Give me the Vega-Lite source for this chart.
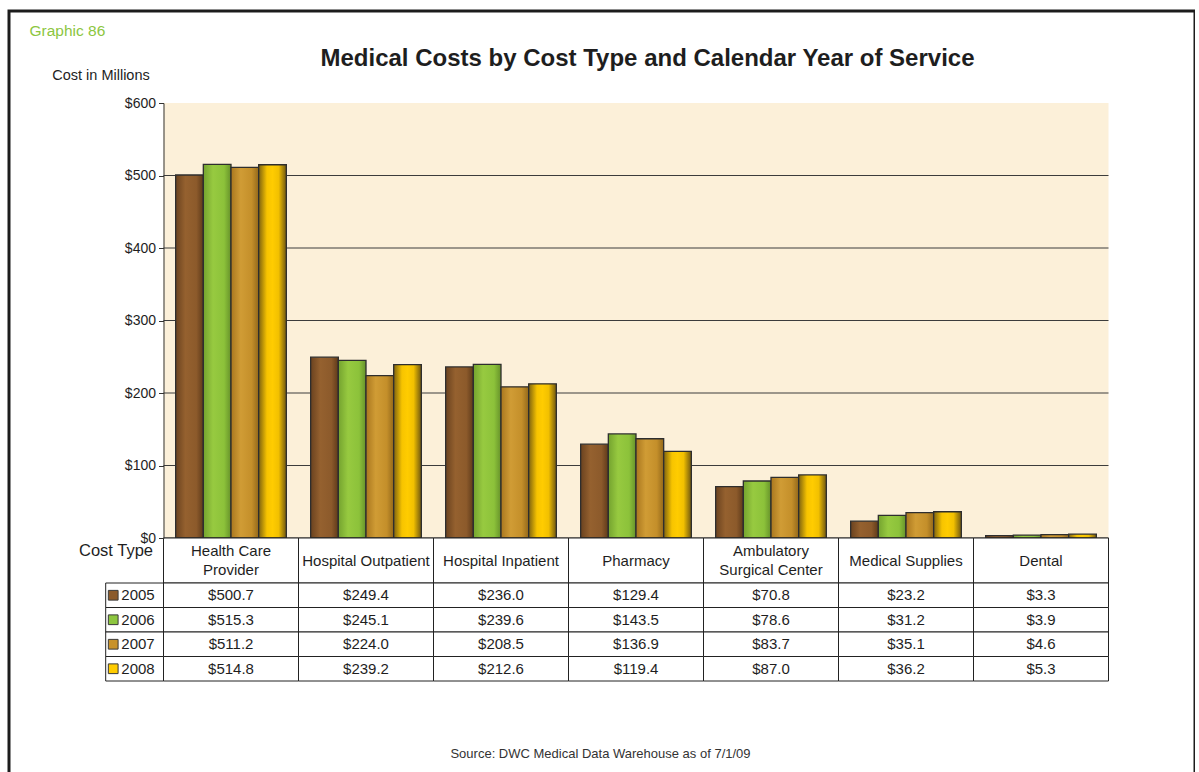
{
  "$schema": "https://vega.github.io/schema/vega-lite/v6.json",
  "width": 1186,
  "height": 780,
  "autosize": "none",
  "padding": {"left": 9, "top": 11, "right": 0, "bottom": 0},
  "background": "white",
  "config": {
    "font": "Liberation Sans",
    "view": {"stroke": "#1c1c1c", "strokeWidth": 3, "fill": "white"},
    "axis": {"labelFont": "Liberation Sans", "titleFont": "Liberation Sans"}
  },
  "datasets": {
    "costs": [
      {"type": "Health Care\nProvider", "year": "2005", "value": 500.7},
      {"type": "Health Care\nProvider", "year": "2006", "value": 515.3},
      {"type": "Health Care\nProvider", "year": "2007", "value": 511.2},
      {"type": "Health Care\nProvider", "year": "2008", "value": 514.8},
      {"type": "Hospital Outpatient", "year": "2005", "value": 249.4},
      {"type": "Hospital Outpatient", "year": "2006", "value": 245.1},
      {"type": "Hospital Outpatient", "year": "2007", "value": 224.0},
      {"type": "Hospital Outpatient", "year": "2008", "value": 239.2},
      {"type": "Hospital Inpatient", "year": "2005", "value": 236.0},
      {"type": "Hospital Inpatient", "year": "2006", "value": 239.6},
      {"type": "Hospital Inpatient", "year": "2007", "value": 208.5},
      {"type": "Hospital Inpatient", "year": "2008", "value": 212.6},
      {"type": "Pharmacy", "year": "2005", "value": 129.4},
      {"type": "Pharmacy", "year": "2006", "value": 143.5},
      {"type": "Pharmacy", "year": "2007", "value": 136.9},
      {"type": "Pharmacy", "year": "2008", "value": 119.4},
      {"type": "Ambulatory\nSurgical Center", "year": "2005", "value": 70.8},
      {"type": "Ambulatory\nSurgical Center", "year": "2006", "value": 78.6},
      {"type": "Ambulatory\nSurgical Center", "year": "2007", "value": 83.7},
      {"type": "Ambulatory\nSurgical Center", "year": "2008", "value": 87.0},
      {"type": "Medical Supplies", "year": "2005", "value": 23.2},
      {"type": "Medical Supplies", "year": "2006", "value": 31.2},
      {"type": "Medical Supplies", "year": "2007", "value": 35.1},
      {"type": "Medical Supplies", "year": "2008", "value": 36.2},
      {"type": "Dental", "year": "2005", "value": 3.3},
      {"type": "Dental", "year": "2006", "value": 3.9},
      {"type": "Dental", "year": "2007", "value": 4.6},
      {"type": "Dental", "year": "2008", "value": 5.3}
    ]
  },
  "layer": [
    {
      "layer": [
        {
          "data": {"values": [{"panel": "plot"}]},
          "mark": {"type": "rect", "fill": "#fcf0d9"},
          "encoding": {
            "x": {
              "datum": 0, "type": "quantitative",
              "scale": {"domain": [0, 1], "range": [154.5, 1099.5], "nice": false, "zero": false},
              "axis": {"orient": "top", "offset": 0, "labels": false, "ticks": false, "domain": false, "grid": false,
                "title": "Graphic 86", "titleX": 20, "titleY": 19, "titleAlign": "left", "titleBaseline": "middle",
                "titleColor": "#8cc63f", "titleFontSize": 15.5, "titleFontWeight": "normal"}
            },
            "x2": {"datum": 1},
            "y": {
              "datum": 0, "type": "quantitative",
              "scale": {"domain": [0, 600], "range": [527, 92], "nice": false},
              "axis": {"orient": "left", "offset": -154.5, "values": [0, 100, 200, 300, 400, 500, 600], "format": "$d",
                "labelFontSize": 14, "labelColor": "#1e1e1e", "labelPadding": 3, "tickSize": 5, "tickColor": "#333333",
                "domainColor": "#333333", "grid": false, "zindex": 1,
                "title": "Cost in Millions", "titleAngle": 0, "titleX": -63, "titleY": 64, "titleAlign": "center",
                "titleBaseline": "middle", "titleFontSize": 14.5, "titleFontWeight": "normal", "titleColor": "#1e1e1e"}
            },
            "y2": {"datum": 600}
          }
        },
        {
          "data": {"values": [{"tick": 0}, {"tick": 100}, {"tick": 200}, {"tick": 300}, {"tick": 400}, {"tick": 500}]},
          "mark": {"type": "rule", "color": "#3c3c3c", "strokeWidth": 1},
          "encoding": {
            "x": {"datum": 0, "type": "quantitative"},
            "x2": {"datum": 1},
            "y": {"field": "tick", "type": "quantitative"}
          }
        }
      ]
    },
    {
      "data": {"name": "costs"},
      "mark": {"type": "bar", "stroke": "#2e2e2e", "strokeWidth": 1.3},
      "encoding": {
        "x": {
          "field": "type", "type": "nominal", "sort": null,
          "scale": {"range": [154.5, 1099.5], "paddingInner": 0.18, "paddingOuter": 0.09},
          "axis": {"orient": "top", "offset": 0, "labels": false, "ticks": false, "domain": false, "grid": false,
            "title": "Medical Costs by Cost Type and Calendar Year of Service", "titleX": 638, "titleY": 47,
            "titleAlign": "center", "titleBaseline": "middle", "titleFontSize": 24, "titleFontWeight": "bold",
            "titleColor": "#1e1e1e"}
        },
        "xOffset": {"field": "year", "type": "nominal", "scale": {"paddingInner": 0, "paddingOuter": 0}},
        "y": {"field": "value", "type": "quantitative", "scale": {"domain": [0, 600], "range": [527, 92], "nice": false}, "axis": null},
        "fill": {
          "condition": [
            {"test": "datum.year === '2005'", "value": {"gradient": "linear", "x1": 0, "x2": 1, "y1": 0, "y2": 0,
              "stops": [{"offset": 0, "color": "#6a421f"}, {"offset": 0.35, "color": "#95612f"}, {"offset": 0.75, "color": "#8c5a2b"}, {"offset": 1, "color": "#5e3a1a"}]}},
            {"test": "datum.year === '2006'", "value": {"gradient": "linear", "x1": 0, "x2": 1, "y1": 0, "y2": 0,
              "stops": [{"offset": 0, "color": "#74a32f"}, {"offset": 0.35, "color": "#97ca40"}, {"offset": 0.75, "color": "#8cc23a"}, {"offset": 1, "color": "#66922a"}]}},
            {"test": "datum.year === '2007'", "value": {"gradient": "linear", "x1": 0, "x2": 1, "y1": 0, "y2": 0,
              "stops": [{"offset": 0, "color": "#a9771f"}, {"offset": 0.35, "color": "#d09c35"}, {"offset": 0.75, "color": "#c48f2a"}, {"offset": 1, "color": "#93681a"}]}}
          ],
          "value": {"gradient": "linear", "x1": 0, "x2": 1, "y1": 0, "y2": 0,
            "stops": [{"offset": 0, "color": "#7d6210"}, {"offset": 0.3, "color": "#f7c400"}, {"offset": 0.5, "color": "#ffcc00"}, {"offset": 0.72, "color": "#f2c000"}, {"offset": 1, "color": "#6e5610"}]}
        }
      }
    },
    {
      "data": {"name": "costs"},
      "transform": [{"filter": "datum.year === '2005'"}],
      "encoding": {
        "x": {"field": "type", "type": "nominal", "sort": null,
          "scale": {"range": [154.5, 1099.5], "paddingInner": 0, "paddingOuter": 0}, "axis": null},
        "y": {"datum": "Cost Type", "type": "nominal",
          "scale": {"range": [527, 572], "paddingInner": 0, "paddingOuter": 0},
          "axis": {"orient": "left", "offset": -154.5, "labels": false, "ticks": false, "domain": false, "grid": false,
            "title": "Cost Type", "titleAngle": 0, "titleX": -11, "titleY": 539, "titleAlign": "right",
            "titleBaseline": "middle", "titleFontSize": 16.5, "titleFontWeight": "normal", "titleColor": "#1e1e1e"}}
      },
      "layer": [
        {"mark": {"type": "rect", "fill": "white", "stroke": "#222222", "strokeWidth": 1}},
        {"transform": [{"filter": "indexof(datum.type, '\\n') < 0"}],
          "mark": {"type": "text", "fontSize": 15, "color": "#1e1e1e", "baseline": "middle"},
          "encoding": {"text": {"field": "type"}}},
        {"transform": [{"filter": "indexof(datum.type, '\\n') >= 0"}],
          "mark": {"type": "text", "fontSize": 15, "lineBreak": "\n", "lineHeight": 19, "dy": -9.5, "color": "#1e1e1e", "baseline": "middle"},
          "encoding": {"text": {"field": "type"}}}
      ]
    },
    {
      "data": {"name": "costs"},
      "encoding": {
        "x": {"field": "type", "type": "nominal", "sort": null,
          "scale": {"range": [154.5, 1099.5], "paddingInner": 0, "paddingOuter": 0},
          "axis": {"orient": "bottom", "offset": 0, "labels": false, "ticks": false, "domain": false, "grid": false,
            "title": "Source: DWC Medical Data Warehouse as of 7/1/09", "titleX": 591, "titleY": -38,
            "titleAlign": "center", "titleBaseline": "middle", "titleFontSize": 13, "titleFontWeight": "normal",
            "titleColor": "#333333"}},
        "y": {"field": "year", "type": "nominal",
          "scale": {"range": [572, 670], "paddingInner": 0, "paddingOuter": 0}, "axis": null}
      },
      "layer": [
        {"mark": {"type": "rect", "fill": "white", "stroke": "#222222", "strokeWidth": 1}},
        {"mark": {"type": "text", "fontSize": 15, "color": "#1e1e1e", "baseline": "middle"},
          "encoding": {"text": {"field": "value", "type": "quantitative", "format": "$.1f"}}}
      ]
    },
    {
      "data": {"name": "costs"},
      "transform": [{"filter": "datum.type === 'Dental'"}],
      "encoding": {
        "x": {"datum": "key", "type": "nominal",
          "scale": {"range": [96.7, 154.5], "paddingInner": 0, "paddingOuter": 0}, "axis": null},
        "y": {"field": "year", "type": "nominal",
          "scale": {"range": [572, 670], "paddingInner": 0, "paddingOuter": 0}, "axis": null}
      },
      "layer": [
        {"mark": {"type": "rect", "fill": "white", "stroke": "#222222", "strokeWidth": 1}},
        {"mark": {"type": "square", "size": 95, "stroke": "#3a3a3a", "strokeWidth": 1, "opacity": 1, "filled": true},
          "encoding": {
            "x": {"datum": "key", "type": "nominal", "bandPosition": 0.13},
            "fill": {"field": "year", "type": "nominal",
              "scale": {"domain": ["2005", "2006", "2007", "2008"], "range": ["#8b5a2b", "#8dc63f", "#c8922a", "#ffcc00"]},
              "legend": null}
          }},
        {"mark": {"type": "text", "fontSize": 15, "align": "left", "baseline": "middle", "color": "#1e1e1e"},
          "encoding": {
            "x": {"datum": "key", "type": "nominal", "bandPosition": 0.27},
            "text": {"field": "year"}
          }}
      ]
    }
  ],
  "resolve": {"scale": {"x": "independent", "y": "independent"}}
}
